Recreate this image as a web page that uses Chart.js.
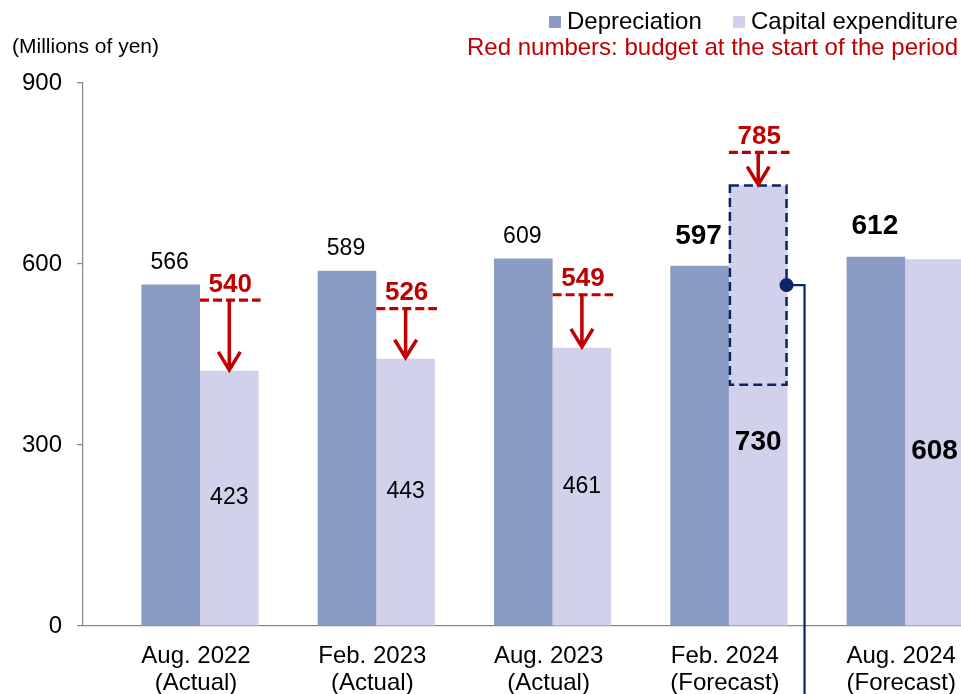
<!DOCTYPE html>
<html>
<head>
<meta charset="utf-8">
<script src="https://cdn.jsdelivr.net/npm/chart.js@4.4.1/dist/chart.umd.min.js"></script>
<style>
  html, body { margin: 0; padding: 0; background: #fff; overflow: hidden; }
  #wrap { width: 961px; height: 694px; position: relative; }
</style>
</head>
<body>
<div id="wrap"><canvas id="capexChart" width="961" height="694"></canvas></div>
<script>
// ==================== DATA ====================
const categories = [
    ['Aug. 2022', '(Actual)'],
    ['Feb. 2023', '(Actual)'],
    ['Aug. 2023', '(Actual)'],
    ['Feb. 2024', '(Forecast)'],
    ['Aug. 2024', '(Forecast)'],
];
const depreciation = [566, 589, 609, 597, 612];
const capex = [423, 443, 461, 730, 608];
const budget = [540, 526, 549, 785, null];   // red numbers, budget at start of period
const isForecast = [false, false, false, true, true];
const yTicks = [0, 300, 600, 900];
const boxFrom = 400;      // bottom of the dashed box on Feb. 2024 capex
const calloutAt = 565;    // level of the callout dot

// ==================== STYLE ====================
const FONT = "'Liberation Sans', Arial, sans-serif";
const DEP = '#8A9CC3';
const CAP = '#D1D1EB';
const RED = '#C00000';
const NAVY = '#0B2463';
const AXIS = '#868686';

// ==================== OVERLAY (labels, arrows, callout, legend) ====================
const overlay = {
    id: 'overlay',
    afterDatasetsDraw(chart) {
        const { ctx, scales: { y } } = chart;
        const dep = chart.getDatasetMeta(0).data;
        const cap = chart.getDatasetMeta(1).data;
        ctx.save();
        ctx.textAlign = 'center';
        ctx.textBaseline = 'middle';

        // depreciation values above the bars
        dep.forEach((bar, i) => {
            const big = isForecast[i];
            ctx.font = (big ? 'bold 28px ' : '23px ') + FONT;
            ctx.fillStyle = '#000';
            ctx.fillText(depreciation[i], bar.x - 1, bar.y - (big ? 30 : 22));
        });

        // capex values inside the bars
        const capShift = [0, 0, 0, 37, 9];
        cap.forEach((bar, i) => {
            const big = isForecast[i];
            ctx.font = (big ? 'bold 28px ' : '23px ') + FONT;
            ctx.fillStyle = '#000';
            ctx.fillText(capex[i], bar.x, (bar.y + bar.base) / 2 + capShift[i]);
        });

        // dashed box on Feb. 2024 capex
        const fb = cap[3];
        const bx0 = fb.x - fb.width / 2 + 1, bx1 = fb.x + fb.width / 2 - 1;
        const by1 = y.getPixelForValue(boxFrom);
        ctx.strokeStyle = NAVY;
        ctx.lineWidth = 2.5;
        ctx.setLineDash([9, 5]);
        ctx.strokeRect(bx0, fb.y, bx1 - bx0, by1 - fb.y);
        ctx.setLineDash([]);

        // callout dot + connector
        const cy = y.getPixelForValue(calloutAt);
        const cx = bx1;
        ctx.lineWidth = 2.2;
        ctx.beginPath();
        ctx.moveTo(cx, cy);
        ctx.lineTo(cx + 18, cy);
        ctx.lineTo(cx + 18, chart.height + 2);
        ctx.stroke();
        ctx.fillStyle = NAVY;
        ctx.beginPath();
        ctx.arc(cx, cy, 7, 0, Math.PI * 2);
        ctx.fill();

        // red budget lines and arrows
        cap.forEach((bar, i) => {
            if (budget[i] == null) return;
            const yb = y.getPixelForValue(budget[i]);
            const x0 = bar.x - bar.width / 2, x1 = bar.x + bar.width / 2 + 2;
            ctx.strokeStyle = RED;
            ctx.lineWidth = 3.2;
            ctx.setLineDash([9, 4]);
            ctx.beginPath();
            ctx.moveTo(x0, yb);
            ctx.lineTo(x1, yb);
            ctx.stroke();
            ctx.setLineDash([]);

            ctx.lineWidth = 3.5;
            ctx.beginPath();
            ctx.moveTo(bar.x, yb);
            ctx.lineTo(bar.x, bar.y - 1);
            ctx.moveTo(bar.x - 11, bar.y - 19);
            ctx.lineTo(bar.x, bar.y - 1);
            ctx.lineTo(bar.x + 11, bar.y - 19);
            ctx.stroke();

            ctx.font = 'bold 26px ' + FONT;
            ctx.fillStyle = RED;
            ctx.fillText(budget[i], bar.x + 1, yb - 15.5);
        });

        // legend + notes
        ctx.textAlign = 'left';
        ctx.font = '24px ' + FONT;
        ctx.fillStyle = DEP;
        ctx.fillRect(549, 16, 12, 12);
        ctx.fillStyle = CAP;
        ctx.fillRect(733, 16, 12, 12);
        ctx.fillStyle = '#000';
        ctx.fillText('Depreciation', 567, 22);
        ctx.fillText('Capital expenditure', 751, 22);

        ctx.textAlign = 'right';
        ctx.fillStyle = RED;
        ctx.fillText('Red numbers: budget at the start of the period', 958, 48);

        ctx.textAlign = 'left';
        ctx.fillStyle = '#000';
        ctx.font = '21px ' + FONT;
        ctx.fillText('(Millions of yen)', 12, 47);
        ctx.restore();
    }
};

// ==================== CHART ====================
const ctx = document.getElementById('capexChart').getContext('2d');
new Chart(ctx, {
    type: 'bar',
    data: {
        datasets: [
            { label: 'Depreciation', data: depreciation.map((v, i) => ({ x: i, y: v })), backgroundColor: DEP },
            { label: 'Capital expenditure', data: capex.map((v, i) => ({ x: i, y: v })), backgroundColor: CAP },
        ]
    },
    options: {
        responsive: false,
        animation: false,
        layout: { padding: { top: 83, left: 0, right: 0, bottom: 0 } },
        datasets: { bar: { categoryPercentage: 0.665, barPercentage: 1 } },
        plugins: { legend: { display: false }, tooltip: { enabled: false } },
        scales: {
            x: {
                type: 'linear',
                offset: false,
                min: -0.6636,
                max: 4.3165,
                grid: { display: false, offset: false },
                border: { color: AXIS, width: 1.2 },
                afterBuildTicks: s => { s.ticks = categories.map((_, i) => ({ value: i })); },
                afterFit: s => { s.height = 68; s.paddingLeft = 0; s.paddingRight = 0; },
                ticks: {
                    callback: v => categories[v],
                    font: { family: FONT, size: 24, lineHeight: 1.12 },
                    color: '#000',
                    padding: 9,
                    labelOffset: -4,
                    maxRotation: 0,
                    autoSkip: false,
                }
            },
            y: {
                min: 0,
                max: 900,
                afterBuildTicks: s => { s.ticks = yTicks.map(v => ({ value: v })); },
                afterFit: s => { s.width = 83; },
                grid: { drawOnChartArea: false, color: AXIS, tickLength: 6, lineWidth: 1.2 },
                border: { color: AXIS, width: 1.2 },
                ticks: { font: { family: FONT, size: 24 }, color: '#000', padding: 15 }
            }
        }
    },
    plugins: [overlay]
});
</script>
</body>
</html>
